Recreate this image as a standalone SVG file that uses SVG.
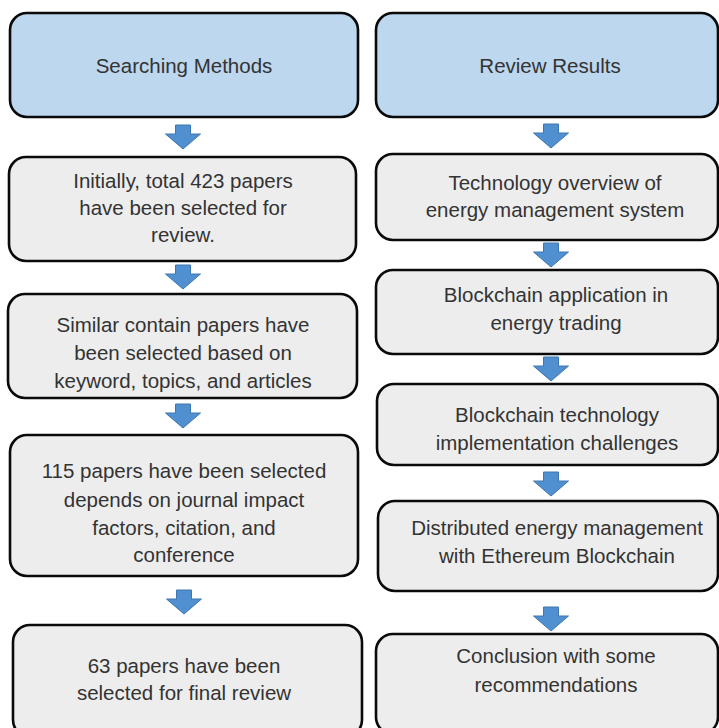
<svg xmlns="http://www.w3.org/2000/svg" width="719" height="728" viewBox="0 0 719 728">
<defs>
<style>
.box{stroke:#0a0a0a;stroke-width:2.6;}
.blue{fill:#BDD7EE;}
.gray{fill:#EDEDED;}
.t{font-family:"Liberation Sans",Arial,sans-serif;font-size:20.5px;fill:#333;text-anchor:middle;}
.arr{fill:#5090D0;stroke:#3F76AE;stroke-width:1;}
</style>
</defs>
<rect width="719" height="728" fill="#fff"/>
<g id="n1"><rect class="box blue" x="10" y="13" width="348" height="104" rx="17"/><text class="t" x="184" y="73">Searching Methods</text></g>
<g id="n2"><rect class="box gray" x="9" y="157" width="347" height="104" rx="17"/><text class="t" x="183" y="188">Initially, total 423 papers</text><text class="t" x="183" y="215">have been selected for</text><text class="t" x="183" y="242">review.</text></g>
<g id="n3"><rect class="box gray" x="8" y="294" width="349" height="104" rx="17"/><text class="t" x="183" y="332">Similar contain papers have</text><text class="t" x="183" y="360">been selected based on</text><text class="t" x="183" y="388">keyword, topics, and articles</text></g>
<g id="n4"><rect class="box gray" x="10" y="435" width="348" height="141" rx="17"/><text class="t" x="184" y="478">115 papers have been selected</text><text class="t" x="184" y="507">depends on journal impact</text><text class="t" x="184" y="535">factors, citation, and</text><text class="t" x="184" y="562">conference</text></g>
<g id="n5"><rect class="box gray" x="13" y="625" width="349" height="112" rx="17"/><text class="t" x="184" y="673">63 papers have been</text><text class="t" x="184" y="700">selected for final review</text></g>
<g id="n6"><rect class="box blue" x="376" y="13" width="342" height="104" rx="17"/><text class="t" x="550" y="73">Review Results</text></g>
<g id="n7"><rect class="box gray" x="376" y="154" width="342" height="86" rx="17"/><text class="t" x="555" y="190">Technology overview of</text><text class="t" x="555" y="217">energy management system</text></g>
<g id="n8"><rect class="box gray" x="376" y="270" width="342" height="84" rx="17"/><text class="t" x="556" y="302">Blockchain application in</text><text class="t" x="556" y="330">energy trading</text></g>
<g id="n9"><rect class="box gray" x="377" y="384" width="341" height="81" rx="17"/><text class="t" x="557" y="422">Blockchain technology</text><text class="t" x="557" y="450">implementation challenges</text></g>
<g id="n10"><rect class="box gray" x="378" y="501" width="340" height="90" rx="17"/><text class="t" x="557" y="535">Distributed energy management</text><text class="t" x="557" y="563">with Ethereum Blockchain</text></g>
<g id="n11"><rect class="box gray" x="376" y="634" width="342" height="100" rx="17"/><text class="t" x="556" y="663">Conclusion with some</text><text class="t" x="556" y="692">recommendations</text></g>
<g id="connectors">
<path class="arr" d="M175.5,125 h15 v9 h10 l-17.5,15 l-17.5,-15 h10 z"/>
<path class="arr" d="M175.5,265 h15 v9 h10 l-17.5,15 l-17.5,-15 h10 z"/>
<path class="arr" d="M175.5,404 h15 v9 h10 l-17.5,15 l-17.5,-15 h10 z"/>
<path class="arr" d="M176.5,590 h15 v9 h10 l-17.5,15 l-17.5,-15 h10 z"/>
<path class="arr" d="M543.5,124 h15 v9 h10 l-17.5,15 l-17.5,-15 h10 z"/>
<path class="arr" d="M543.5,243 h15 v9 h10 l-17.5,15 l-17.5,-15 h10 z"/>
<path class="arr" d="M543.5,357 h15 v9 h10 l-17.5,15 l-17.5,-15 h10 z"/>
<path class="arr" d="M543.5,472 h15 v9 h10 l-17.5,15 l-17.5,-15 h10 z"/>
<path class="arr" d="M543.5,607 h15 v9 h10 l-17.5,15 l-17.5,-15 h10 z"/>
</g>
</svg>
